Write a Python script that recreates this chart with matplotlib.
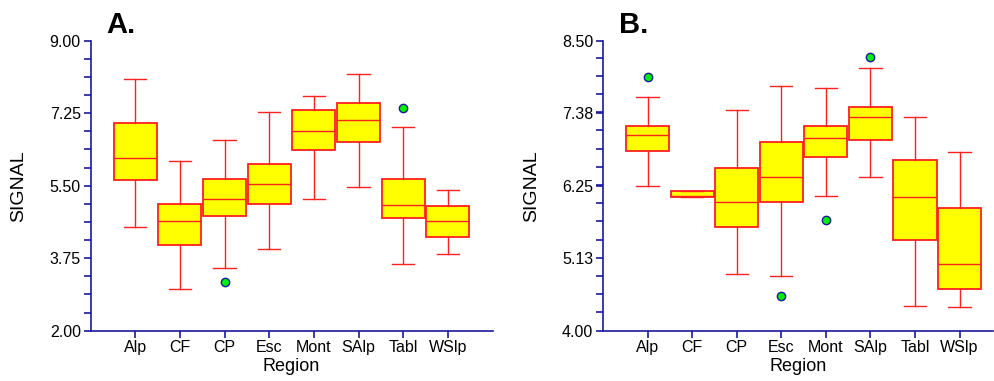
import matplotlib
matplotlib.use("Agg")
import matplotlib.pyplot as plt
from matplotlib.ticker import FixedLocator, AutoMinorLocator

plt.rcParams["font.family"] = ["Liberation Sans", "DejaVu Sans"]

regions = ["Alp", "CF", "CP", "Esc", "Mont", "SAlp", "Tabl", "WSlp"]

# panel A
a_whislo = [4.51, 3.01, 3.52, 3.97, 5.17, 5.48, 3.61, 3.86]
a_q1 = [5.63, 4.07, 4.76, 5.05, 6.35, 6.55, 4.71, 4.25]
a_med = [6.18, 4.65, 5.19, 5.55, 6.81, 7.09, 5.04, 4.65]
a_q3 = [7.02, 5.07, 5.65, 6.02, 7.33, 7.49, 5.66, 5.02]
a_whishi = [8.07, 6.10, 6.60, 7.29, 7.66, 8.19, 6.92, 5.39]
a_fliers = [[], [], [3.18], [], [], [], [7.38], []]

# panel B
b_whislo = [6.24, 6.07, 4.88, 4.85, 6.09, 6.38, 4.39, 4.37]
b_q1 = [6.79, 6.07, 5.61, 5.99, 6.69, 6.96, 5.40, 4.64]
b_med = [7.04, 6.09, 5.99, 6.39, 6.99, 7.31, 6.07, 5.04]
b_q3 = [7.18, 6.16, 6.53, 6.93, 7.18, 7.47, 6.65, 5.90]
b_whishi = [7.62, 6.16, 7.43, 7.79, 7.76, 8.07, 7.32, 6.77]
b_fliers = [[7.94], [], [], [4.54], [5.72], [8.25], [], []]

a_ticks = [2.00, 3.75, 5.50, 7.25, 9.00]
b_ticks = [4.00, 5.13, 6.25, 7.38, 8.50]

NAVY = "#1a1a9c"


def make_stats(lo, q1, med, q3, hi, fl):
    stats = []
    for i in range(len(regions)):
        stats.append({"whislo": lo[i], "q1": q1[i], "med": med[i], "q3": q3[i],
                      "whishi": hi[i], "fliers": fl[i], "label": regions[i]})
    return stats


def draw(ax, stats, ticks, letter, xmax):
    ax.bxp(stats, positions=range(1, len(regions) + 1), widths=0.97,
           patch_artist=True, showfliers=True,
           boxprops=dict(facecolor="#ffff00", edgecolor="#ff2020", linewidth=1.3),
           medianprops=dict(color="#ff2020", linewidth=1.0),
           whiskerprops=dict(color="#ff2020", linewidth=1.0),
           capprops=dict(color="#ff2020", linewidth=1.0),
           capwidths=0.5,
           flierprops=dict(marker="o", markerfacecolor="#00ee00",
                           markeredgecolor=NAVY, markersize=6, linestyle="none"))
    ax.set_xlim(0, xmax)
    ax.set_ylim(ticks[0], ticks[-1])
    ax.yaxis.set_major_locator(FixedLocator(ticks))
    ax.yaxis.set_minor_locator(AutoMinorLocator(4))
    ax.set_yticklabels(["%.2f" % t for t in ticks])
    ax.set_xticks(range(1, len(regions) + 1))
    ax.set_xticklabels(regions)
    for s in ["top", "right"]:
        ax.spines[s].set_visible(False)
    for s in ["left", "bottom"]:
        ax.spines[s].set_color(NAVY)
        ax.spines[s].set_linewidth(1.2)
    ax.tick_params(axis="both", which="major", colors=NAVY, labelcolor="black",
                   labelsize=11.5, length=5, width=1.2, pad=2)
    ax.tick_params(axis="y", which="minor", colors=NAVY, length=5, width=1.2)
    ax.set_xlabel("Region", fontsize=13, labelpad=2)
    ax.set_ylabel("SIGNAL", fontsize=14, labelpad=16)
    ax.text(0.04, 1.028, letter, transform=ax.transAxes, fontsize=21,
            fontweight="bold", ha="left", va="baseline")


fig = plt.figure(figsize=(9.94, 3.81), dpi=100)
ax1 = fig.add_axes([90.5 / 994, 50.3 / 381, 402 / 994, 290 / 381])
ax2 = fig.add_axes([603 / 994, 50.3 / 381, 390 / 994, 290 / 381])

draw(ax1, make_stats(a_whislo, a_q1, a_med, a_q3, a_whishi, a_fliers), a_ticks, "A.", 9.0)
draw(ax2, make_stats(b_whislo, b_q1, b_med, b_q3, b_whishi, b_fliers), b_ticks, "B.", 8.75)

fig.savefig("out.png", dpi=100)
